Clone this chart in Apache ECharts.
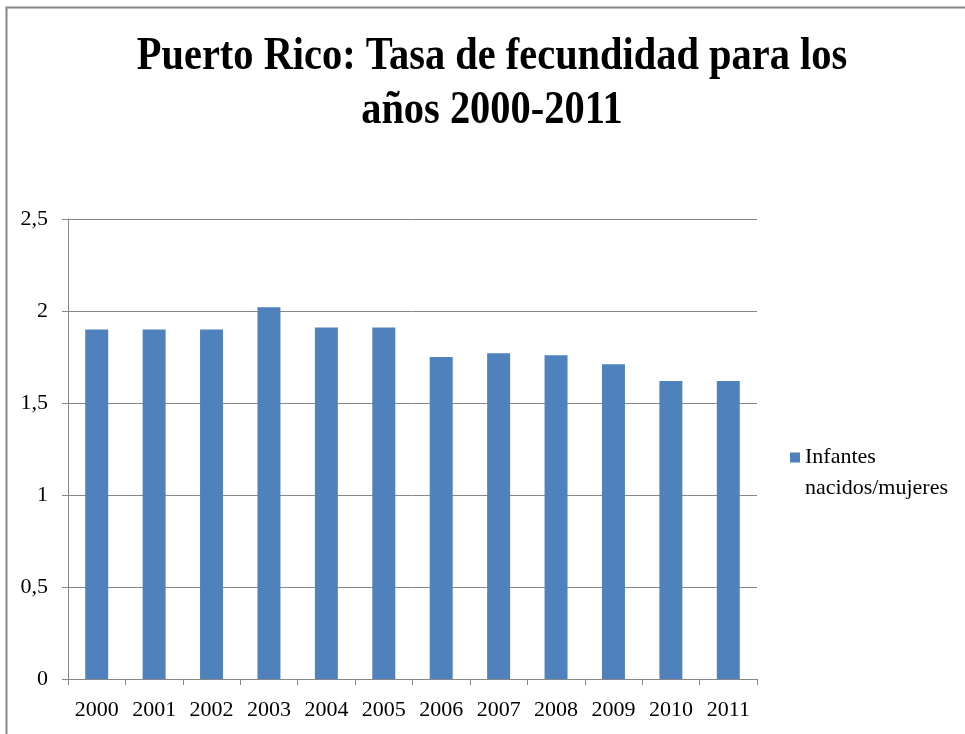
<!DOCTYPE html>
<html>
<head>
<meta charset="utf-8">
<title>Puerto Rico: Tasa de fecundidad</title>
<script src="https://cdn.jsdelivr.net/npm/echarts@6/dist/echarts.min.js"></script>
<style>
    html, body { margin: 0; padding: 0; background: #fff; }
    #chart { width: 965px; height: 734px; }
</style>
</head>
<body>
<div id="chart"></div>
<script>
// datos
const years = ['2000', '2001', '2002', '2003', '2004', '2005', '2006', '2007', '2008', '2009', '2010', '2011'];
const tasa = [1.9, 1.9, 1.9, 2.02, 1.91, 1.91, 1.75, 1.77, 1.76, 1.71, 1.62, 1.62];
const seriesName = 'Infantes nacidos/mujeres';
const titleText = 'Puerto Rico: Tasa de fecundidad para los\naños 2000-2011';

const serif = '"Liberation Serif", "DejaVu Serif", serif';
const gray = '#878787';

const chart = echarts.init(document.getElementById('chart'));

const option = {
    backgroundColor: '#fff',
    animation: false,
    textStyle: { fontFamily: serif },
    legend: {
        left: 790,
        top: 411,
        padding: 0,
        icon: 'rect',
        itemWidth: 10,
        itemHeight: 10,
        itemGap: 5,
        data: [seriesName],
        // linea vacia arriba para que el cuadro quede junto a "Infantes"
        formatter: () => ' \nInfantes\nnacidos/mujeres',
        textStyle: {
            fontFamily: serif,
            fontSize: 22,
            lineHeight: 31,
            color: '#000'
        }
    },
    grid: {
        left: 68,
        right: 208,
        top: 219,
        bottom: 55,
        containLabel: false
    },
    xAxis: {
        type: 'category',
        data: years,
        axisLine: { lineStyle: { color: gray, width: 1 } },
        axisTick: { show: true, length: 6, lineStyle: { color: gray } },
        axisLabel: {
            fontFamily: serif,
            fontSize: 22,
            color: '#000',
            margin: 20,
            interval: 0
        }
    },
    yAxis: {
        type: 'value',
        min: 0,
        max: 2.5,
        interval: 0.5,
        axisLine: { show: true, lineStyle: { color: gray, width: 1 } },
        axisTick: { show: true, length: 6, lineStyle: { color: gray } },
        splitLine: { show: true, lineStyle: { color: gray, width: 1 } },
        axisLabel: {
            fontFamily: serif,
            fontSize: 22,
            color: '#000',
            margin: 20,
            formatter: v => String(v).replace('.', ',')
        }
    },
    series: [
        {
            name: seriesName,
            type: 'bar',
            data: tasa,
            barCategoryGap: '60%',
            itemStyle: { color: '#4F81BD' }
        }
    ],
    graphic: [
        {
            type: 'rect',
            silent: true,
            z: -10,
            shape: { x: 6.5, y: 7.5, width: 1000, height: 800 },
            style: { fill: 'none', stroke: gray, lineWidth: 2 }
        },
        {
            // titulo algo estrecho, como en el original
            type: 'text',
            silent: true,
            x: 492,
            y: 30,
            scaleX: 0.86,
            style: {
                text: titleText,
                x: 0,
                y: 0,
                align: 'center',
                verticalAlign: 'top',
                font: 'bold 47px ' + serif,
                lineHeight: 54,
                fill: '#000'
            }
        }
    ]
};

chart.setOption(option);
</script>
</body>
</html>
